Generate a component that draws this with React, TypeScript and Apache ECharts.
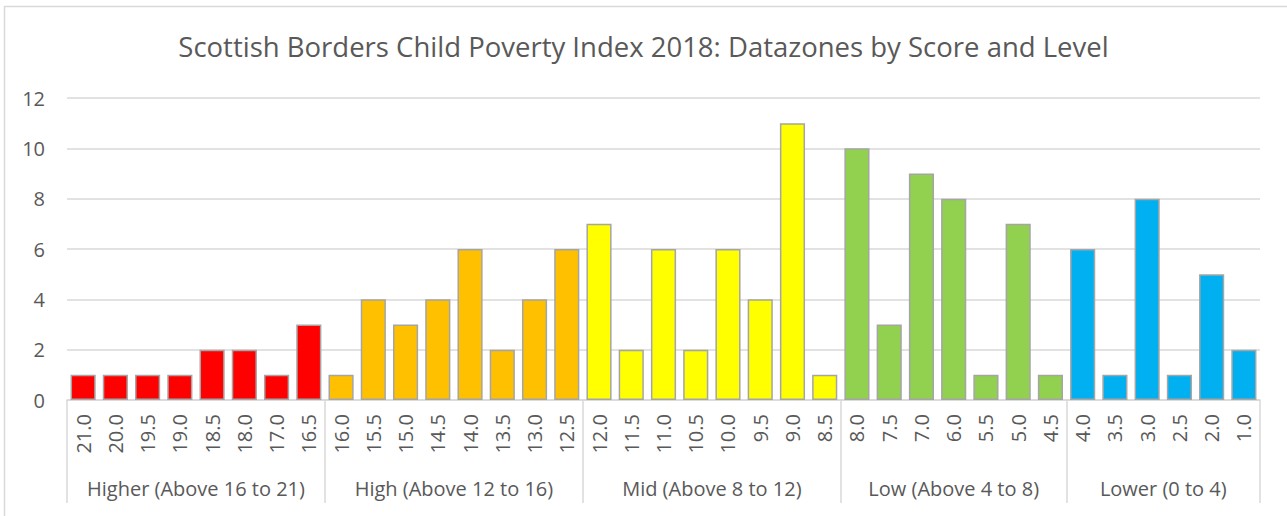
import React, { useEffect, useRef } from "react";
import * as echarts from "echarts";

const TITLE = "Scottish Borders Child Poverty Index 2018: Datazones by Score and Level";

const categories = [
  "21.0", "20.0", "19.5", "19.0", "18.5", "18.0", "17.0", "16.5",
  "16.0", "15.5", "15.0", "14.5", "14.0", "13.5", "13.0", "12.5",
  "12.0", "11.5", "11.0", "10.5", "10.0", "9.5", "9.0", "8.5",
  "8.0", "7.5", "7.0", "6.0", "5.5", "5.0", "4.5",
  "4.0", "3.5", "3.0", "2.5", "2.0", "1.0",
];

const values = [
  1, 1, 1, 1, 2, 2, 1, 3,
  1, 4, 3, 4, 6, 2, 4, 6,
  7, 2, 6, 2, 6, 4, 11, 1,
  10, 3, 9, 8, 1, 7, 1,
  6, 1, 8, 1, 5, 2,
];

const groupNames = [
  "Higher (Above 16 to 21)",
  "High (Above 12 to 16)",
  "Mid (Above 8 to 12)",
  "Low (Above 4 to 8)",
  "Lower (0 to 4)",
];
const groupSizes = [8, 8, 8, 7, 6];
const groupColors = ["#FF0000", "#FFC000", "#FFFF00", "#92D050", "#00B0F0"];

const yTicks = [0, 2, 4, 6, 8, 10, 12];

const TEXT = "#595959";
const GRID = "#d9d9d9";
const FONT = "Open Sans";

export default function App() {
  const ref = useRef<HTMLDivElement>(null);

  useEffect(() => {
    document.body.style.margin = "0";
    if (!ref.current) return;
    const chart = echarts.init(ref.current, undefined, { renderer: "svg" });

    const starts: number[] = [];
    const centers: Record<string, string> = {};
    let acc = 0;
    groupSizes.forEach((s, i) => {
      starts.push(acc);
      centers[String(acc + s / 2)] = groupNames[i];
      acc += s;
    });
    const total = acc;
    const colorOf = (idx: number) => {
      let g = 0;
      for (let i = 0; i < starts.length; i++) if (idx >= starts[i]) g = i;
      return groupColors[g];
    };

    const option: any = {
      animation: false,
      backgroundColor: "#ffffff",
      textStyle: { fontFamily: FONT },
      title: {
        text: TITLE,
        left: "center",
        top: 27,
        textStyle: { fontFamily: FONT, fontSize: 27.5, fontWeight: "normal", color: TEXT },
      },
      graphic: [
        {
          type: "rect",
          shape: { x: 4.5, y: 6.5, width: 1300, height: 530 },
          style: { fill: "none", stroke: GRID, lineWidth: 1.5 },
          silent: true,
        },
      ],
      grid: { left: 67, right: 27, top: 98, bottom: 116, containLabel: false },
      xAxis: [
        {
          type: "category",
          data: categories,
          position: "bottom",
          axisLine: { show: true, lineStyle: { color: GRID, width: 1.5 } },
          axisTick: {
            show: true,
            length: 103,
            interval: (index: number) => starts.indexOf(index) >= 0,
            lineStyle: { color: GRID, width: 1.5 },
          },
          axisLabel: {
            interval: 0,
            rotate: 90,
            margin: 14,
            fontSize: 20,
            fontFamily: FONT,
            color: TEXT,
          },
          splitLine: { show: false },
        },
        {
          type: "value",
          position: "bottom",
          min: 0,
          max: total,
          interval: 0.5,
          axisLine: { show: false },
          axisTick: { show: false },
          splitLine: { show: false },
          axisLabel: {
            margin: 78,
            fontSize: 20,
            fontFamily: FONT,
            color: TEXT,
            formatter: (v: number) => centers[String(v)] || "",
          },
        },
      ],
      yAxis: {
        type: "value",
        min: 0,
        max: yTicks[yTicks.length - 1],
        interval: 2,
        axisLine: { show: false },
        axisTick: { show: false },
        axisLabel: { fontSize: 20, fontFamily: FONT, color: TEXT, margin: 22 },
        splitLine: { show: true, lineStyle: { color: GRID, width: 1.5 } },
      },
      series: [
        {
          type: "bar",
          xAxisIndex: 0,
          yAxisIndex: 0,
          barCategoryGap: "22%",
          data: values.map((v, i) => ({
            value: v,
            itemStyle: { color: colorOf(i), borderColor: "#a5a5a5", borderWidth: 1.5 },
          })),
        },
      ],
    };

    chart.setOption(option);
    return () => chart.dispose();
  }, []);

  return <div ref={ref} style={{ width: 1287, height: 516 }} />;
}
